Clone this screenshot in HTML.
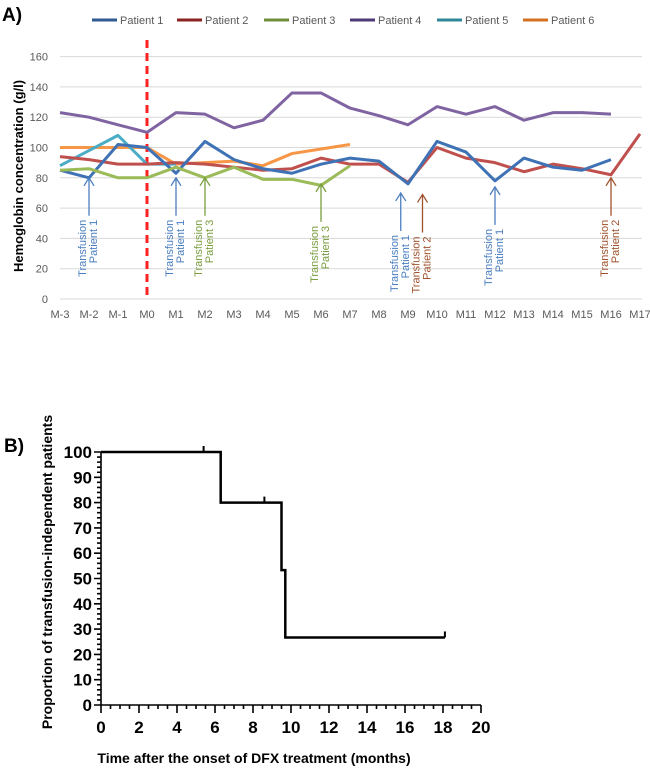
<!DOCTYPE html>
<html><head><meta charset="utf-8"><style>
body{margin:0;background:#fff;width:650px;height:767px;overflow:hidden;font-family:"Liberation Sans",sans-serif}
svg text{font-family:"Liberation Sans",sans-serif}
</style></head><body>
<svg id="s" width="650" height="767" xmlns="http://www.w3.org/2000/svg"></svg>
<script>
const months=["M-3","M-2","M-1","M0","M1","M2","M3","M4","M5","M6","M7","M8","M9","M10","M11","M12","M13","M14","M15","M16","M17"];
const yTicksA=[0,20,40,60,80,100,120,140,160];
const p1=[85,80,102,100,83,104,92,86,83,89,93,91,76,104,97,78,93,87,85,92];
const p2=[94,92,89,89,90,89,87,85,86,93,89,89,77,100,93,90,84,89,86,82,109];
const p3=[85,86,80,80,87,80,87,79,79,75,88];
const p4=[123,120,115,110,123,122,113,118,136,136,126,121,115,127,122,127,118,123,123,122];
const p5=[88,98,108,89,89];
const p6=[100,100,100,100,89,90,91,88,96,99,102];
const seriesNames=["Patient 1","Patient 2","Patient 3","Patient 4","Patient 5","Patient 6"];
const arrowPos=[1,4,5,9,11.75,12.5,15,19];
const arrowTop=[80,80,80,76,70,69,74,80];
const arrowPatient=["Patient  1","Patient  1","Patient 3","Patient 3","Patient  1","Patient 2","Patient  1","Patient 2"];
const arrowKind=[1,1,3,3,1,2,1,2];
const kmT=[0,6.3,9.5,9.7,18.1];
const kmS=[100,80,53.3,26.7,26.7];
const censorT=[5.4,8.6,18.1];
const censorS=[100,80,26.7];
const xTicksB=[0,2,4,6,8,10,12,14,16,18,20];
const yTicksB=[0,10,20,30,40,50,60,70,80,90,100];

const S=document.getElementById('s');const NS="http://www.w3.org/2000/svg";
function el(t,a,txt){const e=document.createElementNS(NS,t);for(const k in a)e.setAttribute(k,a[k]);if(txt!==undefined)e.textContent=txt;S.appendChild(e);return e;}
const xA=i=>60+29*i, yA=v=>299-v*30.3/20;
let e;
e=el('text',{x:2,y:21,'font-size':19,'font-weight':'bold'},'A)');


yTicksA.forEach(v=>{
 e=el('line',{x1:60,x2:642,y1:yA(v),y2:yA(v),stroke:'#d9d9d9','stroke-width':1});
 
 
 e=el('text',{x:48,y:yA(v)+4,'font-size':11,fill:'#595959','text-anchor':'end'},v);
 
 
});
months.forEach((m,i)=>{
 e=el('text',{x:xA(i),y:318,'font-size':11,fill:'#595959','text-anchor':'middle'},m);
 
 
});
e=el('text',{transform:'translate(23,176) rotate(-90)','font-size':13,'font-weight':'bold','text-anchor':'middle'},'Hemoglobin concentration (g/l)');


e=el('line',{x1:147,x2:147,y1:40,y2:299,stroke:'#ff2020','stroke-width':3,'stroke-dasharray':'8,5'});


const colors=['#3f72b5','#c0504d','#9bbb59','#8064a2','#4bacc6','#f79646'];
const legColors=['#2f5a92','#8b2320','#6f8e3a','#4f3a78','#2e8799','#d4701f'];
const data=[p1,p2,p3,p4,p5,p6];
const order=[5,4,3,1,0,2];
order.forEach(k=>{
 const d=data[k].map((v,i)=>(i?'L':'M')+xA(i)+','+yA(v)).join('');
 e=el('path',{d:d,fill:'none',stroke:colors[k],'stroke-width':3,'stroke-linejoin':'round'});
 
 
});
const legX=[92,177,264,350,437,523];
seriesNames.forEach((n,k)=>{
 e=el('line',{x1:legX[k],x2:legX[k]+25,y1:20,y2:20,stroke:legColors[k],'stroke-width':3});
 
 
 e=el('text',{x:legX[k]+28,y:24,'font-size':11,fill:'#595959'},n);
 
 
});
const arrCol={1:'#4a7ebf',2:'#a0522d',3:'#7a9e3e'};
arrowPos.forEach((p,i)=>{
 const x=xA(p),top=yA(arrowTop[i]),bot=top+38,c=arrCol[arrowKind[i]];
 e=el('path',{d:`M${x},${bot}L${x},${top}M${x-5},${top+8}L${x},${top}L${x+5},${top+8}`,fill:'none',stroke:c,'stroke-width':1.3});
 
 
 e=el('text',{transform:`translate(${x-3},${bot+4}) rotate(-90)`,'font-size':11,fill:c,'text-anchor':'end'},'Transfusion');
 
 
 e=el('text',{transform:`translate(${x+8},${bot+4}) rotate(-90)`,'font-size':11,fill:c,'text-anchor':'end'},arrowPatient[i]);
 
 
});
// Panel B
const xB=t=>101+t*19, yB=v=>705-v*2.53;
e=el('text',{x:4,y:452,'font-size':19,'font-weight':'bold'},'B)');


let tk='';
for(let v=0;v<=100;v+=2){const L=v%10==0?7:4;tk+=`M${101-L},${yB(v)}L101,${yB(v)}`;}
for(let t=0;t<=20.01;t+=0.5){const L=(Math.round(t*2)%4==0)?8:4;tk+=`M${xB(t)},705L${xB(t)},${705+L}`;}
e=el('path',{d:tk+`M101,${yB(100)}L101,705L${xB(20)},705`,stroke:'#000','stroke-width':1.6,fill:'none'});


yTicksB.forEach(v=>{
 e=el('text',{x:92,y:yB(v)+6,'font-size':17,'font-weight':'bold','text-anchor':'end'},v);
 
 
});
xTicksB.forEach(t=>{
 e=el('text',{x:xB(t),y:733,'font-size':17,'font-weight':'bold','text-anchor':'middle'},t);
 
 
});
let d=`M${xB(kmT[0])},${yB(kmS[0])}`;
for(let i=1;i<kmT.length;i++){d+=`L${xB(kmT[i])},${yB(kmS[i-1])}L${xB(kmT[i])},${yB(kmS[i])}`;}
e=el('path',{d:d,fill:'none',stroke:'#000','stroke-width':2.5});


censorT.forEach((t,i)=>{
 e=el('line',{x1:xB(t),x2:xB(t),y1:yB(censorS[i]),y2:yB(censorS[i])-6,stroke:'#000','stroke-width':2});
 
 
});
e=el('text',{transform:'translate(52,572) rotate(-90)','font-size':14,'font-weight':'bold','text-anchor':'middle'},'Proportion of transfusion-independent patients');


e=el('text',{x:254,y:763,'font-size':14,'font-weight':'bold','text-anchor':'middle'},'Time after the onset of DFX treatment (months)');


</script>
</body></html>
